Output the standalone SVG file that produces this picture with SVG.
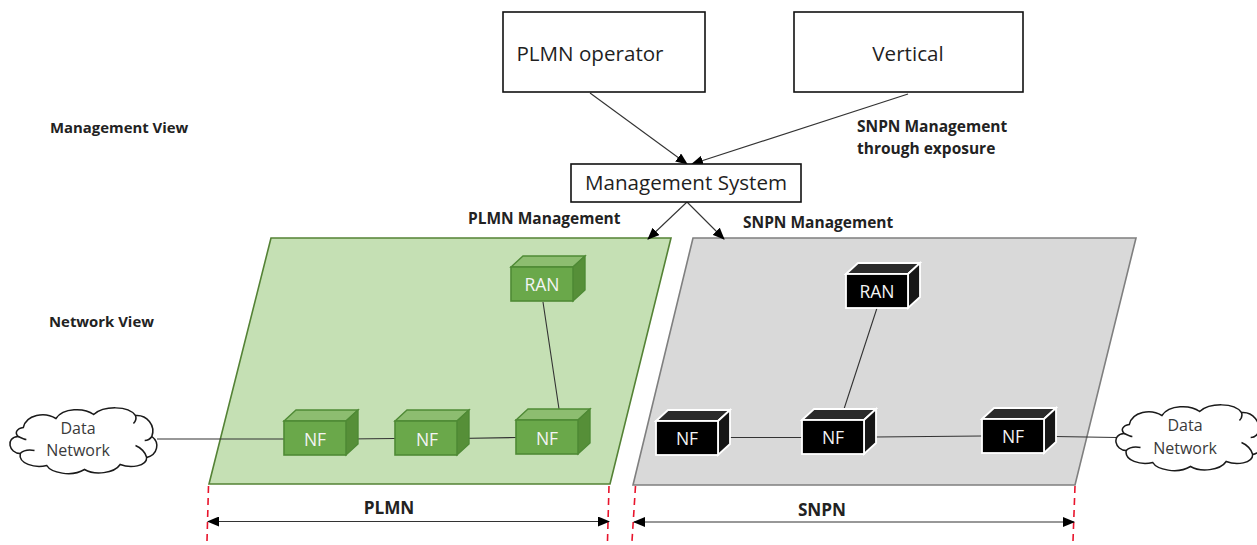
<svg xmlns="http://www.w3.org/2000/svg" width="1257" height="545" viewBox="0 0 1257 545">
<style>
text{font-family:"Open Sans","Liberation Sans",sans-serif;text-anchor:middle;fill:#1f1f1f}
.box{fill:#fff;stroke:#111;stroke-width:1.6}
.big{font-size:20.6px}
.mid{font-size:16px;fill:#3a3a3a}
.lab{font-size:15.5px;font-weight:700;text-anchor:start;fill:#222}
.side{font-size:14.9px}
.cap{font-size:17.2px;font-weight:700;fill:#222}
.cn{fill:none;stroke:#333;stroke-width:1.1}
.red{fill:none;stroke:#e8142c;stroke-width:1.6;stroke-dasharray:7 5}
.wt{font-size:17.5px;fill:#f4f4f4}
.gf{fill:#6aa84a;stroke:#4f8a35;stroke-width:1.6}
.gt{fill:#8dbd70;stroke:#4f8a35;stroke-width:1.4}
.gs{fill:#568f38;stroke:#4f8a35;stroke-width:1.4}
.kf{fill:#000;stroke:#fff;stroke-width:1.8}
.kt{fill:#2b2b2b;stroke:#fff;stroke-width:1.8}
.ks{fill:#161616;stroke:#fff;stroke-width:1.8}
.cl{fill:#fff;stroke:#1a1a1a;stroke-width:1.5}
</style>
<defs>
<marker id="ah" markerWidth="12" markerHeight="10" refX="11" refY="5" orient="auto" markerUnits="userSpaceOnUse"><path d="M0 0L12 5L0 10Z" fill="#000"/></marker>
<marker id="as" markerWidth="12" markerHeight="10" refX="1" refY="5" orient="auto" markerUnits="userSpaceOnUse"><path d="M12 0L0 5L12 10Z" fill="#000"/></marker>
<g id="cube-g">
<path class="gt" d="M0 0L12 -11H74L62 0Z"/>
<path class="gs" d="M62 0L74 -11V23L62 34Z"/>
<rect class="gf" x="0" y="0" width="62" height="34"/>
</g>
<g id="cube-k">
<path class="kt" d="M0 0L12 -11H74L62 0Z"/>
<path class="ks" d="M62 0L74 -11V23L62 34Z"/>
<rect class="kf" x="0" y="0" width="62" height="34"/>
</g>
<g id="cloud">
<path class="cl" d="M15 21C18 8 36 5 47 12C54 1 75 1 84 8C94 -1 118 -1 125 9C136 8 145 19 141 30C149 36 147 48 136 51C136 60 120 62 110 58C104 67 85 69 75 63C62 71 42 66 38 59C26 62 10 57 12 47C1 47 -3 31 10 30C6 26 9 22 15 21Z"/>
<path fill="none" stroke="#1a1a1a" stroke-width="1.5" d="M10 30C14 32 16 33 18 33M12 47C15 44 21 43 26 44M125 9C126 12 125 15 123 17M141 30C139 33 137 34 134 34M136 51C135 46 130 41 125 39"/>
</g>
</defs>

<g id="plmn-plane"><path d="M271 238H671L610 484H209Z" fill="#c5e0b4" stroke="#548235" stroke-width="1.6"/></g>
<g id="snpn-plane"><path d="M693 238H1136L1075 485H633Z" fill="#d9d9d9" stroke="#7f7f7f" stroke-width="1.6"/></g>

<g id="connectors">
<path class="cn" d="M157 439H284M346 439L395 438.500M457 438.500L516 437.500M543 302L559 409"/>
<path class="cn" d="M877 308L844 409M729 437.500H802M875 437L982 436M1055 436.500L1117 437.500"/>
<path class="cn" marker-end="url(#ah)" d="M590 93L687 164"/>
<path class="cn" marker-end="url(#ah)" d="M908 94L692 164"/>
<path class="cn" marker-end="url(#ah)" d="M687 202L648 239"/>
<path class="cn" marker-end="url(#ah)" d="M687 202L724 239"/>
<path class="red" d="M208.500 486L207 541M609 486L607.500 541M635.500 486L632 541M1075 486L1073 541"/>
<path class="cn" marker-start="url(#as)" marker-end="url(#ah)" d="M208 521.500H609"/>
<path class="cn" marker-start="url(#as)" marker-end="url(#ah)" d="M634 522H1074"/>
</g>

<g id="plmn-operator"><rect class="box" x="503" y="12" width="202" height="80"/><text class="big" x="590" y="61">PLMN operator</text></g>
<g id="vertical"><rect class="box" x="794" y="12" width="229" height="80"/><text class="big" x="908" y="61">Vertical</text></g>
<g id="management-system"><rect class="box" x="571" y="164" width="230" height="38"/><text class="big" x="686" y="190">Management System</text></g>

<g id="label-management-view"><text class="lab side" x="50" y="133">Management View</text></g>
<g id="label-network-view"><text class="lab side" x="49" y="327">Network View</text></g>
<g id="label-exposure"><text class="lab" x="857" y="132">SNPN Management</text><text class="lab" x="857" y="154">through exposure</text></g>
<g id="label-plmn-mgmt"><text class="lab" x="468" y="224">PLMN Management</text></g>
<g id="label-snpn-mgmt"><text class="lab" x="743" y="228">SNPN Management</text></g>
<g id="label-plmn"><text class="cap" x="389" y="514">PLMN</text></g>
<g id="label-snpn"><text class="cap" x="822" y="516">SNPN</text></g>

<g id="ran-green"><use href="#cube-g" x="511" y="267"/><text class="wt" x="542" y="291">RAN</text></g>
<g id="nf-green-1"><use href="#cube-g" x="284" y="421"/><text class="wt" x="315" y="446">NF</text></g>
<g id="nf-green-2"><use href="#cube-g" x="395" y="421"/><text class="wt" x="427" y="446">NF</text></g>
<g id="nf-green-3"><use href="#cube-g" x="516" y="420"/><text class="wt" x="547" y="445">NF</text></g>
<g id="ran-black"><use href="#cube-k" x="846" y="274"/><text class="wt" x="877" y="298">RAN</text></g>
<g id="nf-black-1"><use href="#cube-k" x="656" y="421"/><text class="wt" x="687" y="445">NF</text></g>
<g id="nf-black-2"><use href="#cube-k" x="802" y="420"/><text class="wt" x="833" y="444">NF</text></g>
<g id="nf-black-3"><use href="#cube-k" x="982" y="419"/><text class="wt" x="1013" y="443">NF</text></g>

<g id="cloud-left"><use href="#cloud" transform="translate(8 406.500) scale(1.02 1)"/><text class="mid" x="78" y="434">Data</text><text class="mid" x="78" y="456">Network</text></g>
<g id="cloud-right"><use href="#cloud" transform="translate(1114 403.500) scale(1.02 1)"/><text class="mid" x="1185" y="431">Data</text><text class="mid" x="1185" y="454">Network</text></g>
</svg>
